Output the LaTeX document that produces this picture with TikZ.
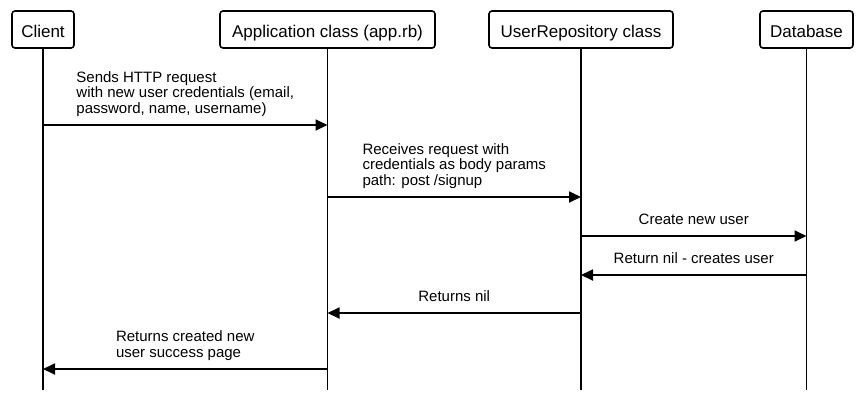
\documentclass[tikz,border=0pt]{standalone}
\usepackage{fontspec}
\setmainfont{Liberation Sans}
\usetikzlibrary{arrows.meta}
\begin{document}
\begin{tikzpicture}[x=1pt,y=-1pt,
  actor/.style={draw, line width=1.6pt, rounded corners=3pt, inner sep=0pt, minimum height=37pt, text height=17pt, text depth=1pt, font=\fontsize{17}{20}\selectfont},
  life/.style={line width=1.6pt},
  msg/.style={line width=1.8pt, -{Triangle[length=12pt,width=11pt]}},
  lbl/.style={anchor=south, inner sep=0pt, yshift=7pt, align=left, font=\fontsize{15}{15.5}\selectfont, text depth=4pt}
]
\useasboundingbox (0,0) rectangle (865,413);
\node[actor, minimum width=62pt] (client) at (43,29.5) {Client};
\node[actor, minimum width=215pt] (app) at (327.5,29.5) {Application class (app.rb)};
\node[actor, minimum width=184pt] (repo) at (581,29.5) {UserRepository class};
\node[actor, minimum width=93pt] (db) at (806.5,29.5) {Database};

\coordinate (clientend) at (client |- 0,390);
\coordinate (append) at (app |- 0,390);
\coordinate (repoend) at (repo |- 0,390);
\coordinate (dbend) at (db |- 0,390);
\draw[life] (client.south) -- (clientend);
\draw[life] (app.south) -- (append);
\draw[life] (repo.south) -- (repoend);
\draw[life] (db.south) -- (dbend);

\draw[msg] (client |- 0,125) -- node[lbl] {Sends HTTP request\\with new user credentials (email,\\password, name, username)} (app |- 0,125);
\draw[msg] (app |- 0,197) -- node[lbl] {Receives request with\\credentials as body params\\path: post /signup} (repo |- 0,197);
\draw[msg] (repo |- 0,236) -- node[lbl] {Create new user} (db |- 0,236);
\draw[msg] (db |- 0,275) -- node[lbl] {Return nil - creates user} (repo |- 0,275);
\draw[msg] (repo |- 0,313) -- node[lbl] {Returns nil} (app |- 0,313);
\draw[msg] (app |- 0,369) -- node[lbl] {Returns created new\\user success page} (client |- 0,369);
\end{tikzpicture}
\end{document}
